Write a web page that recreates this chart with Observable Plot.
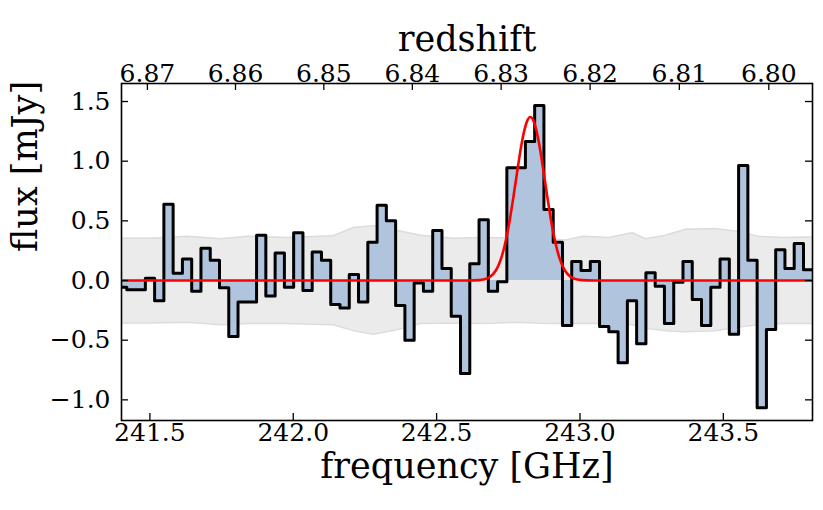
<!DOCTYPE html>
<html><head><meta charset="utf-8">
<script src="https://cdn.jsdelivr.net/npm/d3@7"></script>
<script src="https://cdn.jsdelivr.net/npm/@observablehq/plot@0.6"></script>
<style>body{margin:0;background:#fff} #chart svg{display:block}</style>
</head><body><div id="chart"></div>
<script>
// channel edges (GHz)
const freqEdges = [241.3872, 241.4195, 241.4518, 241.4842, 241.5165, 241.5488, 241.5811, 241.6135, 241.6458, 241.6781,
  241.7105, 241.7428, 241.7751, 241.8074, 241.8398, 241.8721, 241.9044, 241.9368, 241.9691, 242.0014,
  242.0338, 242.0661, 242.0984, 242.1307, 242.1631, 242.1954, 242.2277, 242.2601, 242.2924, 242.3247,
  242.3571, 242.3894, 242.4217, 242.4540, 242.4864, 242.5187, 242.5510, 242.5834, 242.6157, 242.6480,
  242.6804, 242.7127, 242.7450, 242.7773, 242.8097, 242.8420, 242.8743, 242.9067, 242.9390, 242.9713,
  243.0037, 243.0360, 243.0683, 243.1006, 243.1330, 243.1653, 243.1976, 243.2300, 243.2623, 243.2946,
  243.3270, 243.3593, 243.3916, 243.4239, 243.4563, 243.4886, 243.5209, 243.5533, 243.5856, 243.6179,
  243.6503, 243.6826, 243.7149, 243.7472, 243.7796, 243.8119];
// flux per channel (mJy)
const flux = [-0.056, -0.078, -0.078, 0.02, -0.17,
  0.64, 0.06, 0.18, -0.09, 0.27, 0.17, -0.06, -0.47, -0.18, -0.18,
  0.38, -0.13, 0.23, -0.056, 0.40, -0.084, 0.24, 0.17, -0.20, -0.23,
  0.05, -0.18, 0.32, 0.63, 0.50, -0.21, -0.50, -0.02, -0.09, 0.42,
  0.10, -0.30, -0.78, 0.14, 0.51, -0.09, -0.01, 0.945, 0.945, 1.165,
  1.467, 0.595, 0.32, -0.377, 0.16, 0.084, 0.16, -0.385, -0.43, -0.69,
  -0.17, -0.53, 0.065, -0.048, -0.36, -0.014, 0.16, -0.16, -0.377, -0.056,
  0.18, -0.45, 0.964, 0.17, -1.067, -0.41, 0.257, 0.10, 0.31, 0.09];
// noise band
const bandFreq = [241.401, 241.502, 241.631, 241.747, 241.841, 241.980, 242.140, 242.210, 242.280, 242.364,
  242.444, 242.559, 242.660, 242.775, 242.890, 242.949, 243.009, 243.099, 243.183, 243.228,
  243.298, 243.368, 243.472, 243.552, 243.622, 243.706, 243.810];
const bandUpper = [0.355, 0.355, 0.37, 0.35, 0.37, 0.36, 0.375, 0.445, 0.46, 0.42,
  0.38, 0.355, 0.36, 0.355, 0.35, 0.34, 0.37, 0.36, 0.40, 0.35,
  0.38, 0.43, 0.435, 0.41, 0.37, 0.36, 0.365];
const bandLower = [-0.357, -0.357, -0.35, -0.37, -0.36, -0.36, -0.37, -0.42, -0.45, -0.41,
  -0.36, -0.355, -0.36, -0.35, -0.36, -0.36, -0.36, -0.36, -0.37, -0.40,
  -0.42, -0.43, -0.42, -0.39, -0.37, -0.36, -0.36];
// gaussian fit curve (sampled)
const fitFreq = [241.401, 242.607, 242.647, 242.667, 242.687, 242.707, 242.717, 242.727, 242.737, 242.747,
  242.757, 242.767, 242.777, 242.787, 242.797, 242.807, 242.817, 242.827, 242.837, 242.847,
  242.857, 242.867, 242.877, 242.887, 242.897, 242.907, 242.917, 242.927, 242.937, 242.947,
  242.967, 242.987, 243.007, 243.047, 243.811];
const fitFlux = [0, 0, 0.003, 0.010, 0.032, 0.086, 0.134, 0.200, 0.289, 0.400,
  0.534, 0.686, 0.847, 1.007, 1.152, 1.269, 1.344, 1.37, 1.344, 1.269,
  1.152, 1.007, 0.847, 0.686, 0.534, 0.400, 0.289, 0.200, 0.134, 0.086,
  0.032, 0.010, 0.003, 0, 0];
// ticks
const freqTicks = [241.5, 242.0, 242.5, 243.0, 243.5];
const fluxTicks = [-1.0, -0.5, 0.0, 0.5, 1.0, 1.5];
const zTicks = [6.87, 6.86, 6.85, 6.84, 6.83, 6.82, 6.81, 6.80];
const restFreq = 1900.537; // [CII] rest frequency, GHz

const W = 823, H = 510, mL = 121, mR = 11, mT = 83, mB = 90;
const fw = W - mL - mR, fh = H - mT - mB;
const steps = freqEdges.map((f, i) => ({f, v: flux[Math.min(i, flux.length - 1)]}));
const band = bandFreq.map((f, i) => ({f, hi: bandUpper[i], lo: bandLower[i]}));
const fit = fitFreq.map((f, i) => ({f, v: fitFlux[i]}));
const fmt1 = d3.format(".1f"), fmt2 = d3.format(".2f");
const serif = "'DejaVu Serif', serif";
const TS = 25, LS = 35;

const plot = Plot.plot({
  width: W, height: H, marginLeft: mL, marginRight: mR, marginTop: mT, marginBottom: mB,
  style: {fontFamily: serif, fontSize: TS + "px", color: "black", background: "white", overflow: "visible"},
  x: {domain: [241.401, 243.811], axis: null},
  y: {domain: [-1.173, 1.651], axis: null},
  marks: [
    Plot.areaY(band, {x: "f", y1: "lo", y2: "hi", fill: "#ebebeb"}),
    Plot.lineY(band, {x: "f", y: "hi", stroke: "#dcdcdc", strokeWidth: 1.5}),
    Plot.lineY(band, {x: "f", y: "lo", stroke: "#dcdcdc", strokeWidth: 1.5}),
    Plot.areaY(steps, {x: "f", y1: 0, y2: "v", curve: "step-after", fill: "#b0c4de", clip: true}),
    Plot.lineY(steps, {x: "f", y: "v", curve: "step-after", stroke: "black", strokeWidth: 3, clip: true}),
    Plot.line(fit, {x: "f", y: "v", curve: "monotone-x", stroke: "red", strokeWidth: 2.6, clip: true}),
    Plot.frame({stroke: "black", strokeWidth: 1.6}),
    Plot.tickX(freqTicks, {x: d => d, insetTop: fh - 7, stroke: "black", strokeWidth: 1.3}),
    Plot.tickX(zTicks, {x: z => restFreq / (1 + z), insetBottom: fh - 7, stroke: "black", strokeWidth: 1.3}),
    Plot.tickY(fluxTicks, {y: d => d, insetRight: fw - 7, stroke: "black", strokeWidth: 1.3}),
    Plot.tickY(fluxTicks, {y: d => d, insetLeft: fw - 7, stroke: "black", strokeWidth: 1.3}),
    Plot.text(freqTicks, {x: d => d, text: d => fmt1(d), frameAnchor: "bottom", dy: 20, fontSize: TS, fill: "black"}),
    Plot.text(fluxTicks, {y: d => d, text: d => fmt1(d), frameAnchor: "left", textAnchor: "end", dx: -11, fontSize: TS, fill: "black"}),
    Plot.text(zTicks, {x: z => restFreq / (1 + z), text: z => fmt2(z), frameAnchor: "top", dy: -19, fontSize: TS, fill: "black"}),
    Plot.text(["redshift"], {text: d => d, frameAnchor: "top", dy: -57, fontSize: LS, fill: "black"}),
    Plot.text(["frequency [GHz]"], {text: d => d, frameAnchor: "bottom", dy: 57, fontSize: LS, fill: "black"}),
    Plot.text(["flux [mJy]"], {text: d => d, frameAnchor: "left", rotate: -90, dx: -96, fontSize: LS, fill: "black"})
  ]
});
document.getElementById("chart").appendChild(plot);
</script>
</body></html>
